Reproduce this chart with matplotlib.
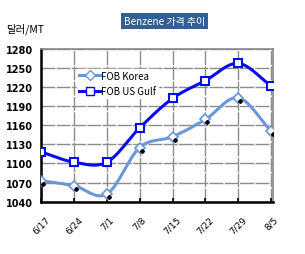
import numpy as np
import matplotlib.pyplot as plt
from matplotlib.transforms import ScaledTranslation

plt.rcParams['font.family'] = ['Noto Sans CJK KR', 'DejaVu Sans']

dates = ["6/17", "6/24", "7/1", "7/8", "7/15", "7/22", "7/29", "8/5"]
fob_korea = [1073, 1065, 1052, 1125, 1142, 1169, 1203, 1151]
fob_usgulf = [1118, 1102, 1102, 1156, 1202, 1230, 1257, 1222]


def smooth(x, y, n=20):
    # catmull-rom style curve, like Excel's smoothed lines
    x = np.asarray(x, float)
    y = np.asarray(y, float)
    px = np.concatenate([[2 * x[0] - x[1]], x, [2 * x[-1] - x[-2]]])
    py = np.concatenate([[2 * y[0] - y[1]], y, [2 * y[-1] - y[-2]]])
    xs, ys = [], []
    t = np.linspace(0, 1, n)
    for i in range(1, len(px) - 2):
        for p, out in ((px, xs), (py, ys)):
            p0, p1, p2, p3 = p[i - 1], p[i], p[i + 1], p[i + 2]
            out.extend(0.5 * (2 * p1 + (-p0 + p2) * t
                              + (2 * p0 - 5 * p1 + 4 * p2 - p3) * t ** 2
                              + (-p0 + 3 * p1 - 3 * p2 + p3) * t ** 3))
    return xs, ys


x = np.arange(len(dates))
korea_col = "#6a97d8"
gulf_col = "#0a0af0"

fig = plt.figure(figsize=(3.05, 2.55), dpi=100)
ax = fig.add_axes([0.135, 0.205, 0.76, 0.60])

sx, sy = smooth(x, fob_usgulf)
ax.plot(sx, sy, color=gulf_col, lw=2.2, zorder=3)
ax.plot(x, fob_usgulf, ls="none", marker="s", ms=6, mfc="white", mec=gulf_col,
        mew=1.5, zorder=4)
sx, sy = smooth(x, fob_korea)
ax.plot(sx, sy, color=korea_col, lw=2.2, zorder=3)
ax.plot(x, fob_korea, ls="none", marker="D", ms=5, mfc="white", mec=korea_col,
        mew=1.2, zorder=4)
# small black shadow marks next to the Korea points
shift = ax.transData + ScaledTranslation(2 / 100, -3 / 100, fig.dpi_scale_trans)
ax.plot(x, fob_korea, ls="none", marker="D", ms=2, color="black",
        transform=shift, zorder=5)

# legend proxies
ax.plot([], [], color=korea_col, lw=2.2, marker="D", ms=5, mfc="white",
        mec=korea_col, label="FOB Korea")
ax.plot([], [], color=gulf_col, lw=2.2, marker="s", ms=6, mfc="white",
        mec=gulf_col, label="FOB US Gulf")
h, l = ax.get_legend_handles_labels()
leg = ax.legend(h[-2:], l[-2:], loc="upper left", bbox_to_anchor=(0.155, 0.87),
                frameon=True, fancybox=False, edgecolor="white", framealpha=1,
                fontsize=7, handlelength=2.2, handletextpad=0.1,
                labelspacing=0.55, borderpad=0.2, borderaxespad=0)

ax.set_xlim(0, 7.06)
ax.set_ylim(1040, 1280)
ax.set_yticks(np.arange(1040, 1281, 30))
ax.set_xticks(x)
ax.set_xticklabels(dates, rotation=45, fontsize=6.5, family="DejaVu Sans")
for t in ax.get_yticklabels():
    t.set_fontsize(7)
    t.set_fontweight("bold")
    t.set_family("DejaVu Sans")
ax.tick_params(axis="x", direction="in", length=3, width=1.2, pad=9)
ax.tick_params(axis="y", length=0, pad=6)
ax.grid(True, color="#8c8c8c", lw=1.0, ls=(0, (10, 1)))
ax.set_axisbelow(True)
for side in ("top", "right"):
    ax.spines[side].set_color("#888888")
    ax.spines[side].set_linewidth(1.2)
for side in ("left", "bottom"):
    ax.spines[side].set_color("black")
    ax.spines[side].set_linewidth(1.8)

fig.text(0.02, 0.885, "달러/MT", fontsize=7.5, ha="left", va="center")
fig.text(0.54, 0.915, "Benzene 가격 추이", fontsize=7.2, color="white",
         ha="center", va="center",
         bbox=dict(boxstyle="square,pad=0.3", fc="#335f92", ec="none"))

fig.savefig("out.png", dpi=100)
